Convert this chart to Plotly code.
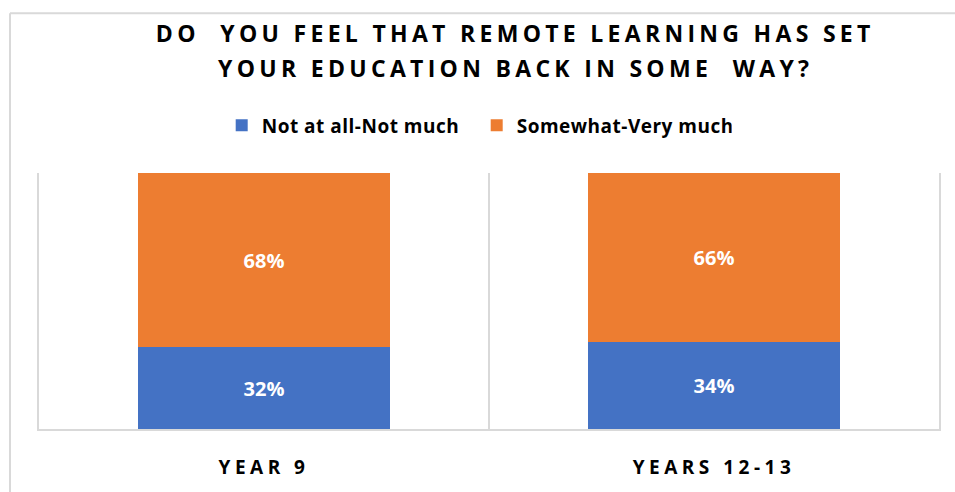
import plotly.graph_objects as go

# Survey results (percent of respondents)
categories = ["YEAR 9", "YEARS 12-13"]
not_much = [32, 34]
very_much = [68, 66]
series_names = ["Not at all-Not much", "Somewhat-Very much"]
colors = ["#4472C4", "#ED7D31"]

title_lines = [
    "DO\u00a0 YOU FEEL THAT REMOTE LEARNING HAS SET",
    "YOUR EDUCATION BACK IN SOME\u00a0 WAY?",
]

FONT = "Open Sans"
GRID = "#d9d9d9"

fig = go.Figure()
for name, vals, col in zip(series_names, [not_much, very_much], colors):
    fig.add_trace(go.Bar(
        x=categories,
        y=vals,
        name=name,
        marker=dict(color=col, line=dict(width=0)),
        texttemplate="%{y}%",
        textposition="inside",
        insidetextanchor="middle",
        textfont=dict(family=FONT, size=20, color="white", weight="bold"),
        hoverinfo="skip",
    ))

fig.update_layout(
    width=955,
    height=492,
    barmode="stack",
    bargap=0.442,
    margin=dict(l=39, r=16, t=173, b=61),
    paper_bgcolor="white",
    plot_bgcolor="white",
    showlegend=True,
    legend=dict(
        orientation="h",
        x=0.203,
        xanchor="left",
        y=1.186,
        yanchor="middle",
        entrywidth=210,
        entrywidthmode="pixels",
        font=dict(family=FONT, size=19, color="black", weight="bold"),
        itemclick=False,
        traceorder="normal",
    ),
    xaxis=dict(
        type="category",
        range=[-0.5, 1.5],
        tickson="boundaries",
        ticks="",
        showgrid=True,
        gridcolor=GRID,
        gridwidth=2,
        showline=True,
        linecolor=GRID,
        linewidth=2,
        tickfont=dict(family=FONT, size=19, color="black", weight="bold"),
        ticklabelstandoff=20,
    ),
    yaxis=dict(
        range=[0, 100],
        showticklabels=False,
        ticks="",
        showgrid=False,
        zeroline=False,
        showline=True,
        mirror=True,
        linecolor=GRID,
        linewidth=2,
    ),
)

# Outer chart frame (left and top edges fall inside the page)
fig.add_shape(
    type="line", xref="paper", yref="paper",
    x0=-0.03222, x1=-0.03222, y0=-0.3, y1=1.624,
    line=dict(color=GRID, width=2),
)
fig.add_shape(
    type="line", xref="paper", yref="paper",
    x0=-0.03222, x1=1.05, y0=1.624, y1=1.624,
    line=dict(color=GRID, width=2),
)

for line, ypos in zip(title_lines, [1.546, 1.410]):
    fig.add_annotation(
        text=line, xref="paper", yref="paper",
        x=0.529, y=ypos, xanchor="center", yanchor="middle",
        showarrow=False,
        font=dict(family=FONT, size=23, color="black", weight="bold"),
    )

spacing_js = """
var gd = document.getElementById('{plot_id}');
gd.querySelectorAll('.annotation-text').forEach(function(t){ t.style.letterSpacing = '4.3px'; });
gd.querySelectorAll('.xtick text').forEach(function(t){ t.style.letterSpacing = '4.5px'; });
gd.querySelectorAll('.legendtext').forEach(function(t){ t.style.letterSpacing = '0.5px'; });
"""

fig.write_html("out.html", post_script=spacing_js)
